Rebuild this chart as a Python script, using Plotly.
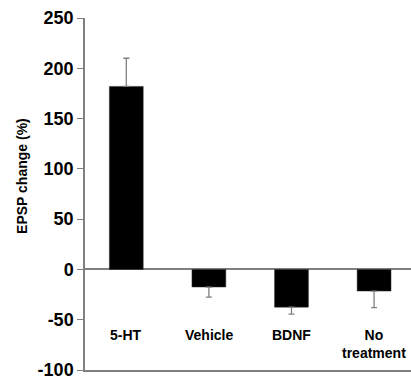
import plotly.graph_objects as go

categories = ["5-HT", "Vehicle", "BDNF", "No<br>treatment"]
values = [182, -17.5, -37.5, -21.5]
err_plus = [28, 0, 0, 0]
err_minus = [0, 10, 7, 16.5]
y_ticks = [-100, -50, 0, 50, 100, 150, 200, 250]
y_tick_text = ["-100", "-50", "0", "50", "100", "150", "200", "250"]
y_title = "EPSP change (%)"

x_idx = list(range(len(categories)))
GRAY = "#808080"
FONT = "Liberation Sans, Arial, sans-serif"

fig = go.Figure()
fig.add_trace(go.Bar(
    x=x_idx, y=values, width=0.41,
    marker=dict(color="black", line=dict(color="#333", width=0.5)),
    error_y=dict(type="data", symmetric=False, array=err_plus, arrayminus=err_minus,
                 color=GRAY, thickness=1.3, width=3),
    showlegend=False,
))

# category labels placed just under the zero line
for i, c in enumerate(categories):
    fig.add_annotation(x=i, y=-55, xref="x", yref="y", text="<b>%s</b>" % c,
                       showarrow=False, yanchor="top", xanchor="center",
                       font=dict(family=FONT, size=14, color="black"))

# y-axis title (centred above the axis middle, as in the original)
fig.add_annotation(x=0, xref="paper", xshift=-63, y=93, yref="y",
                   text="<b>%s</b>" % y_title, textangle=-90, showarrow=False,
                   xanchor="center", yanchor="middle",
                   font=dict(family=FONT, size=14, color="black"))

ymin, ymax = -100, 250
fig.update_layout(
    width=411, height=380,
    margin=dict(l=85, r=0, t=18, b=8),
    plot_bgcolor="white", paper_bgcolor="white",
    xaxis=dict(range=[-0.5, 3.447], showline=True, linecolor=GRAY, linewidth=1.5,
               showticklabels=False, ticks="", showgrid=False, zeroline=False),
    xaxis2=dict(overlaying="x", anchor="free",
                position=(0 - ymin) / (ymax - ymin), side="bottom",
                range=[-0.5, 3.447], tickvals=[0.5, 1.5, 2.5], ticks="outside",
                ticklen=4, tickcolor=GRAY, tickwidth=1, showticklabels=False,
                showline=False, showgrid=False, zeroline=False),
    yaxis=dict(range=[ymin, ymax], tickvals=y_ticks, ticktext=y_tick_text,
               showline=True, linecolor=GRAY, ticklabeloverflow="allow",
               linewidth=1.5, ticks="outside", ticklen=6, tickcolor=GRAY, tickwidth=1,
               showgrid=False, zeroline=True, zerolinecolor=GRAY, zerolinewidth=1.5,
               tickfont=dict(family=FONT, size=18, color="black", weight="bold")),
)
fig.write_html("out.html", config={"displayModeBar": False},
               post_script="document.body.style.margin='0';document.body.style.overflow='hidden';")
